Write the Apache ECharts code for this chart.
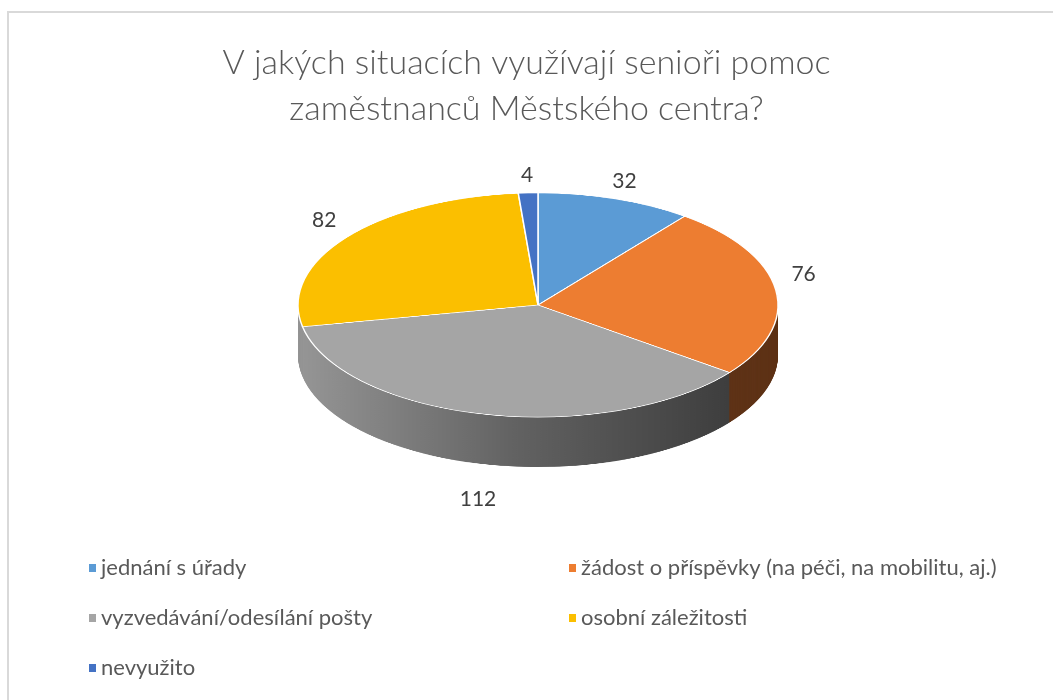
<!DOCTYPE html>
<html>
<head>
<meta charset="utf-8">
<title>V jakých situacích využívají senioři pomoc</title>
<script src="https://cdn.jsdelivr.net/npm/echarts@6/dist/echarts.min.js"></script>
<style>
html, body { margin: 0; padding: 0; background: #fff; }
.wrap { position: relative; width: 1053px; height: 700px; overflow: hidden; }
#pie {
    position: absolute; left: 0; top: 0;
    width: 1053px; height: 700px;
    transform: scaleY(0.467);
    transform-origin: 538px 305px;
}
#main { position: absolute; left: 0; top: 0; width: 1053px; height: 700px; }
</style>
</head>
<body>
<div class="wrap">
    <div id="pie"></div>
    <div id="main"></div>
</div>
<script>
// data
var categories = [
    'jednání s úřady',
    'žádost o příspěvky (na péči, na mobilitu, aj.)',
    'vyzvedávání/odesílání pošty',
    'osobní záležitosti',
    'nevyužito'
];
var values = [32, 76, 112, 82, 4];
var topColors = ['#5b9bd5', '#ed7d31', '#a5a5a5', '#fbbf00', '#4472c4'];
var sideColors = [
    '#2e5a87',
    '#5e3216',
    { type: 'linear', x: 0, y: 0, x2: 1, y2: 0,
      colorStops: [{ offset: 0, color: '#959595' }, { offset: 0.5, color: '#626262' }, { offset: 1, color: '#3e3e3e' }] },
    '#949494',   // yellow wall is seen edge-on, looks like the grey wall
    '#25407a'
];

var FONT = 'Lato, "Open Sans", sans-serif';
var K = 0.467;          // vertical squash of the pie
var CX = 538, CY = 305; // pie centre
var R = 240;            // pie radius
var THICK = 50 / K;     // wall height in unscaled px

function pieData(colors) {
    return values.map(function (v, i) {
        return { name: categories[i], value: v, itemStyle: { color: colors[i] } };
    });
}

// 3D-ish pie: stack of layers for the wall, then the top face
var pieSeries = [];
for (var t = THICK; t > 0; t -= 1) {
    pieSeries.push({
        type: 'pie', silent: true, animation: false,
        center: [CX, CY + t], radius: R,
        startAngle: 90, clockwise: true,
        label: { show: false }, labelLine: { show: false },
        itemStyle: { borderWidth: 0 },
        data: pieData(sideColors)
    });
}
pieSeries.push({
    type: 'pie', silent: true, animation: false,
    center: [CX, CY], radius: R,
    startAngle: 90, clockwise: true,
    label: { show: false }, labelLine: { show: false },
    itemStyle: { borderColor: '#fff', borderWidth: 1.5 },
    data: pieData(topColors)
});

var pieChart = echarts.init(document.getElementById('pie'));
pieChart.setOption({ animation: false, series: pieSeries });

// overlay: title, legend, value labels
var LCY = 290, LR = 265, LK = 0.43, LOFF = 97;
var mainChart = echarts.init(document.getElementById('main'));
var legendItems = categories.map(function (c, i) {
    return { name: c, itemStyle: { color: topColors[i], opacity: 1 } };
});
var legendText = { fontFamily: FONT, fontSize: 22, color: '#595959', lineHeight: 22 };
mainChart.setOption({
    animation: false,
    title: {
        text: 'V jakých situacích využívají senioři pomoc\nzaměstnanců Městského centra?',
        left: 'center', top: 35,
        textStyle: { fontFamily: FONT, fontSize: 34, fontWeight: 300, color: '#595959', lineHeight: 46 }
    },
    legend: [{
        orient: 'vertical', left: 84, top: 552, itemGap: 28,
        icon: 'rect', itemWidth: 7, itemHeight: 8,
        textStyle: legendText,
        data: [legendItems[0], legendItems[2], legendItems[4]]
    }, {
        orient: 'vertical', left: 564, top: 552, itemGap: 28,
        icon: 'rect', itemWidth: 7, itemHeight: 8,
        textStyle: legendText,
        data: [legendItems[1], legendItems[3]]
    }],
    graphic: [{
        type: 'rect', silent: true,
        shape: { x: 8, y: 12, width: 1200, height: 900 },
        style: { fill: 'none', stroke: '#d9d9d9', lineWidth: 2 }
    }],
    series: [{
        type: 'pie', silent: true,
        center: [CX, LCY], radius: [0, LR * 2],
        startAngle: 90, clockwise: true,
        itemStyle: { color: 'rgba(0,0,0,0)' },
        label: {
            show: true, position: 'inside', formatter: '{c}',
            fontFamily: FONT, fontSize: 21, color: '#404040'
        },
        labelLine: { show: false },
        labelLayout: function (p) {
            var r = p.labelRect;
            var x = r.x + r.width / 2;
            var dy = r.y + r.height / 2 - LCY;
            return {
                x: x,
                y: LCY + dy * LK + (dy > 0 ? LOFF : 0),
                align: 'center', verticalAlign: 'middle'
            };
        },
        data: values.map(function (v, i) { return { name: categories[i], value: v }; })
    }]
});
</script>
</body>
</html>
